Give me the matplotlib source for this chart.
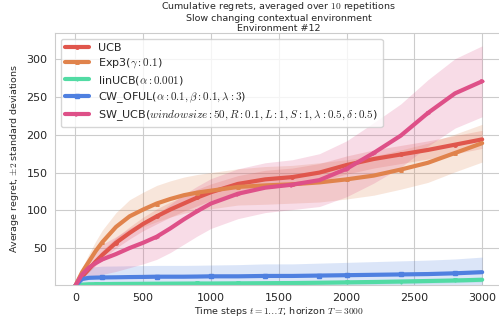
import numpy as np
import matplotlib
matplotlib.use('Agg')
import matplotlib.pyplot as plt
import seaborn as sns

# time grid and mean cumulative regrets (10 repetitions)
times = [0, 50, 100, 150, 200, 300, 400, 500, 600, 700, 800, 900, 1000,
         1200, 1400, 1600, 1800, 2000, 2200, 2400, 2600, 2800, 3000]

ucb = [0, 12, 22, 32, 41, 57, 70, 82, 92, 101, 109, 117, 124,
       135, 141, 144, 150, 160, 168, 174, 180, 187, 194]
exp3 = [0, 18, 32, 46, 58, 78, 92, 101, 109, 115, 120, 123.5, 126,
        131, 133, 134.5, 137, 141, 146, 154, 163, 176, 189]
linucb = [0, 1.5, 2, 2.1, 2.2, 2.4, 2.5, 2.6, 2.7, 2.8, 2.9, 3, 3,
          3.2, 3.4, 3.6, 4, 4.5, 5, 5.6, 6.3, 7, 8]
cw_oful = [0, 9, 10.5, 10.8, 11, 11.2, 11.5, 11.7, 12, 12, 12, 12.2, 12.5,
           12.5, 13, 13, 13.5, 14, 14.5, 15, 15.5, 16.5, 18]
sw_ucb = [0, 15, 24, 30, 35, 42, 50, 57, 65, 76, 88, 99, 109,
          122, 130, 134, 140, 155, 176, 199, 229, 255, 271]

# two standard deviations
ucb_dev = [0, 2, 4, 5, 6, 7, 8, 9, 10, 10, 10, 11, 11,
           11, 12, 12, 12, 12, 12, 12, 12, 12, 12]
exp3_dev = [0, 6, 10, 13, 16, 19, 22, 23, 24, 24, 24, 24, 24,
            24, 25, 25, 26, 26, 26, 26, 26, 25, 25]
linucb_dev = [0, 1, 2, 2, 2, 2, 2, 2, 2, 2, 2, 2, 2,
              2, 2, 2.5, 2.5, 2.5, 3, 3, 3, 3, 3]
cw_oful_dev = [0, 10, 14, 14.5, 15, 15, 15, 15, 15, 15, 15, 15, 15,
               15.5, 16, 16, 16.5, 17, 17.5, 18, 18.5, 19, 20]
sw_ucb_dev = [0, 8, 14, 17, 20, 23, 26, 28, 30, 32, 33, 33, 33,
              33, 33, 33, 35, 37, 40, 42, 44, 46, 47]

labels = [
    "UCB",
    r"Exp3($\gamma: 0.1$)",
    r"linUCB($\alpha: 0.001$)",
    r"CW_OFUL($\alpha: 0.1, \beta: 0.1, \lambda: 3$)",
    r"SW_UCB($windowsize: 50, R: 0.1, L: 1, S: 1, \lambda: 0.5, \delta: 0.5$)",
]
means = [ucb, exp3, linucb, cw_oful, sw_ucb]
devs = [ucb_dev, exp3_dev, linucb_dev, cw_oful_dev, sw_ucb_dev]
colors = ['#e0564c', '#e0834c', '#52dba4', '#4f80e0', '#de5088']
markers = ['o', '^', 'v', 's', '>']

sns.set_style('whitegrid')
plt.rcParams['mathtext.fontset'] = 'cm'
plt.rcParams['font.size'] = 7

fig = plt.figure(figsize=(4.99, 3.22), dpi=100)
ax = fig.add_axes([55 / 499, 37 / 322, 447.5 / 499, 252 / 322])

t = np.array(times)
for i in range(len(means)):
    m = np.array(means[i], dtype=float)
    d = np.array(devs[i], dtype=float)
    ax.fill_between(t, m - d, m + d, color=colors[i], alpha=0.2, lw=0)
    ax.plot(t, m, color=colors[i], lw=3, marker=markers[i], markersize=2.5,
            markevery=(i / 50., 0.1), label=labels[i])

ax.set_xlim(-150, 3150)
ax.set_ylim(1, 335)
ax.set_xticks([0, 500, 1000, 1500, 2000, 2500, 3000])
ax.set_yticks([50, 100, 150, 200, 250, 300])
ax.tick_params(labelsize=8, colors='.15', pad=2)
ax.set_xlabel(r"Time steps $t = 1 \ldots T$, horizon $T = 3000$", fontsize=6.8, labelpad=2)
ax.set_ylabel(r"Average regret, $\pm 2$ standard deviations", fontsize=6.8)
ax.set_title("Cumulative regrets, averaged over $10$ repetitions\n"
             "Slow changing contextual environment\nEnvironment #12",
             fontsize=6.8, pad=1.5, linespacing=1.15)
ax.legend(loc='upper left', fontsize=8, frameon=True, labelspacing=0.3,
          handlelength=2.2, borderaxespad=0.5)

fig.savefig('out.png', dpi=100)
